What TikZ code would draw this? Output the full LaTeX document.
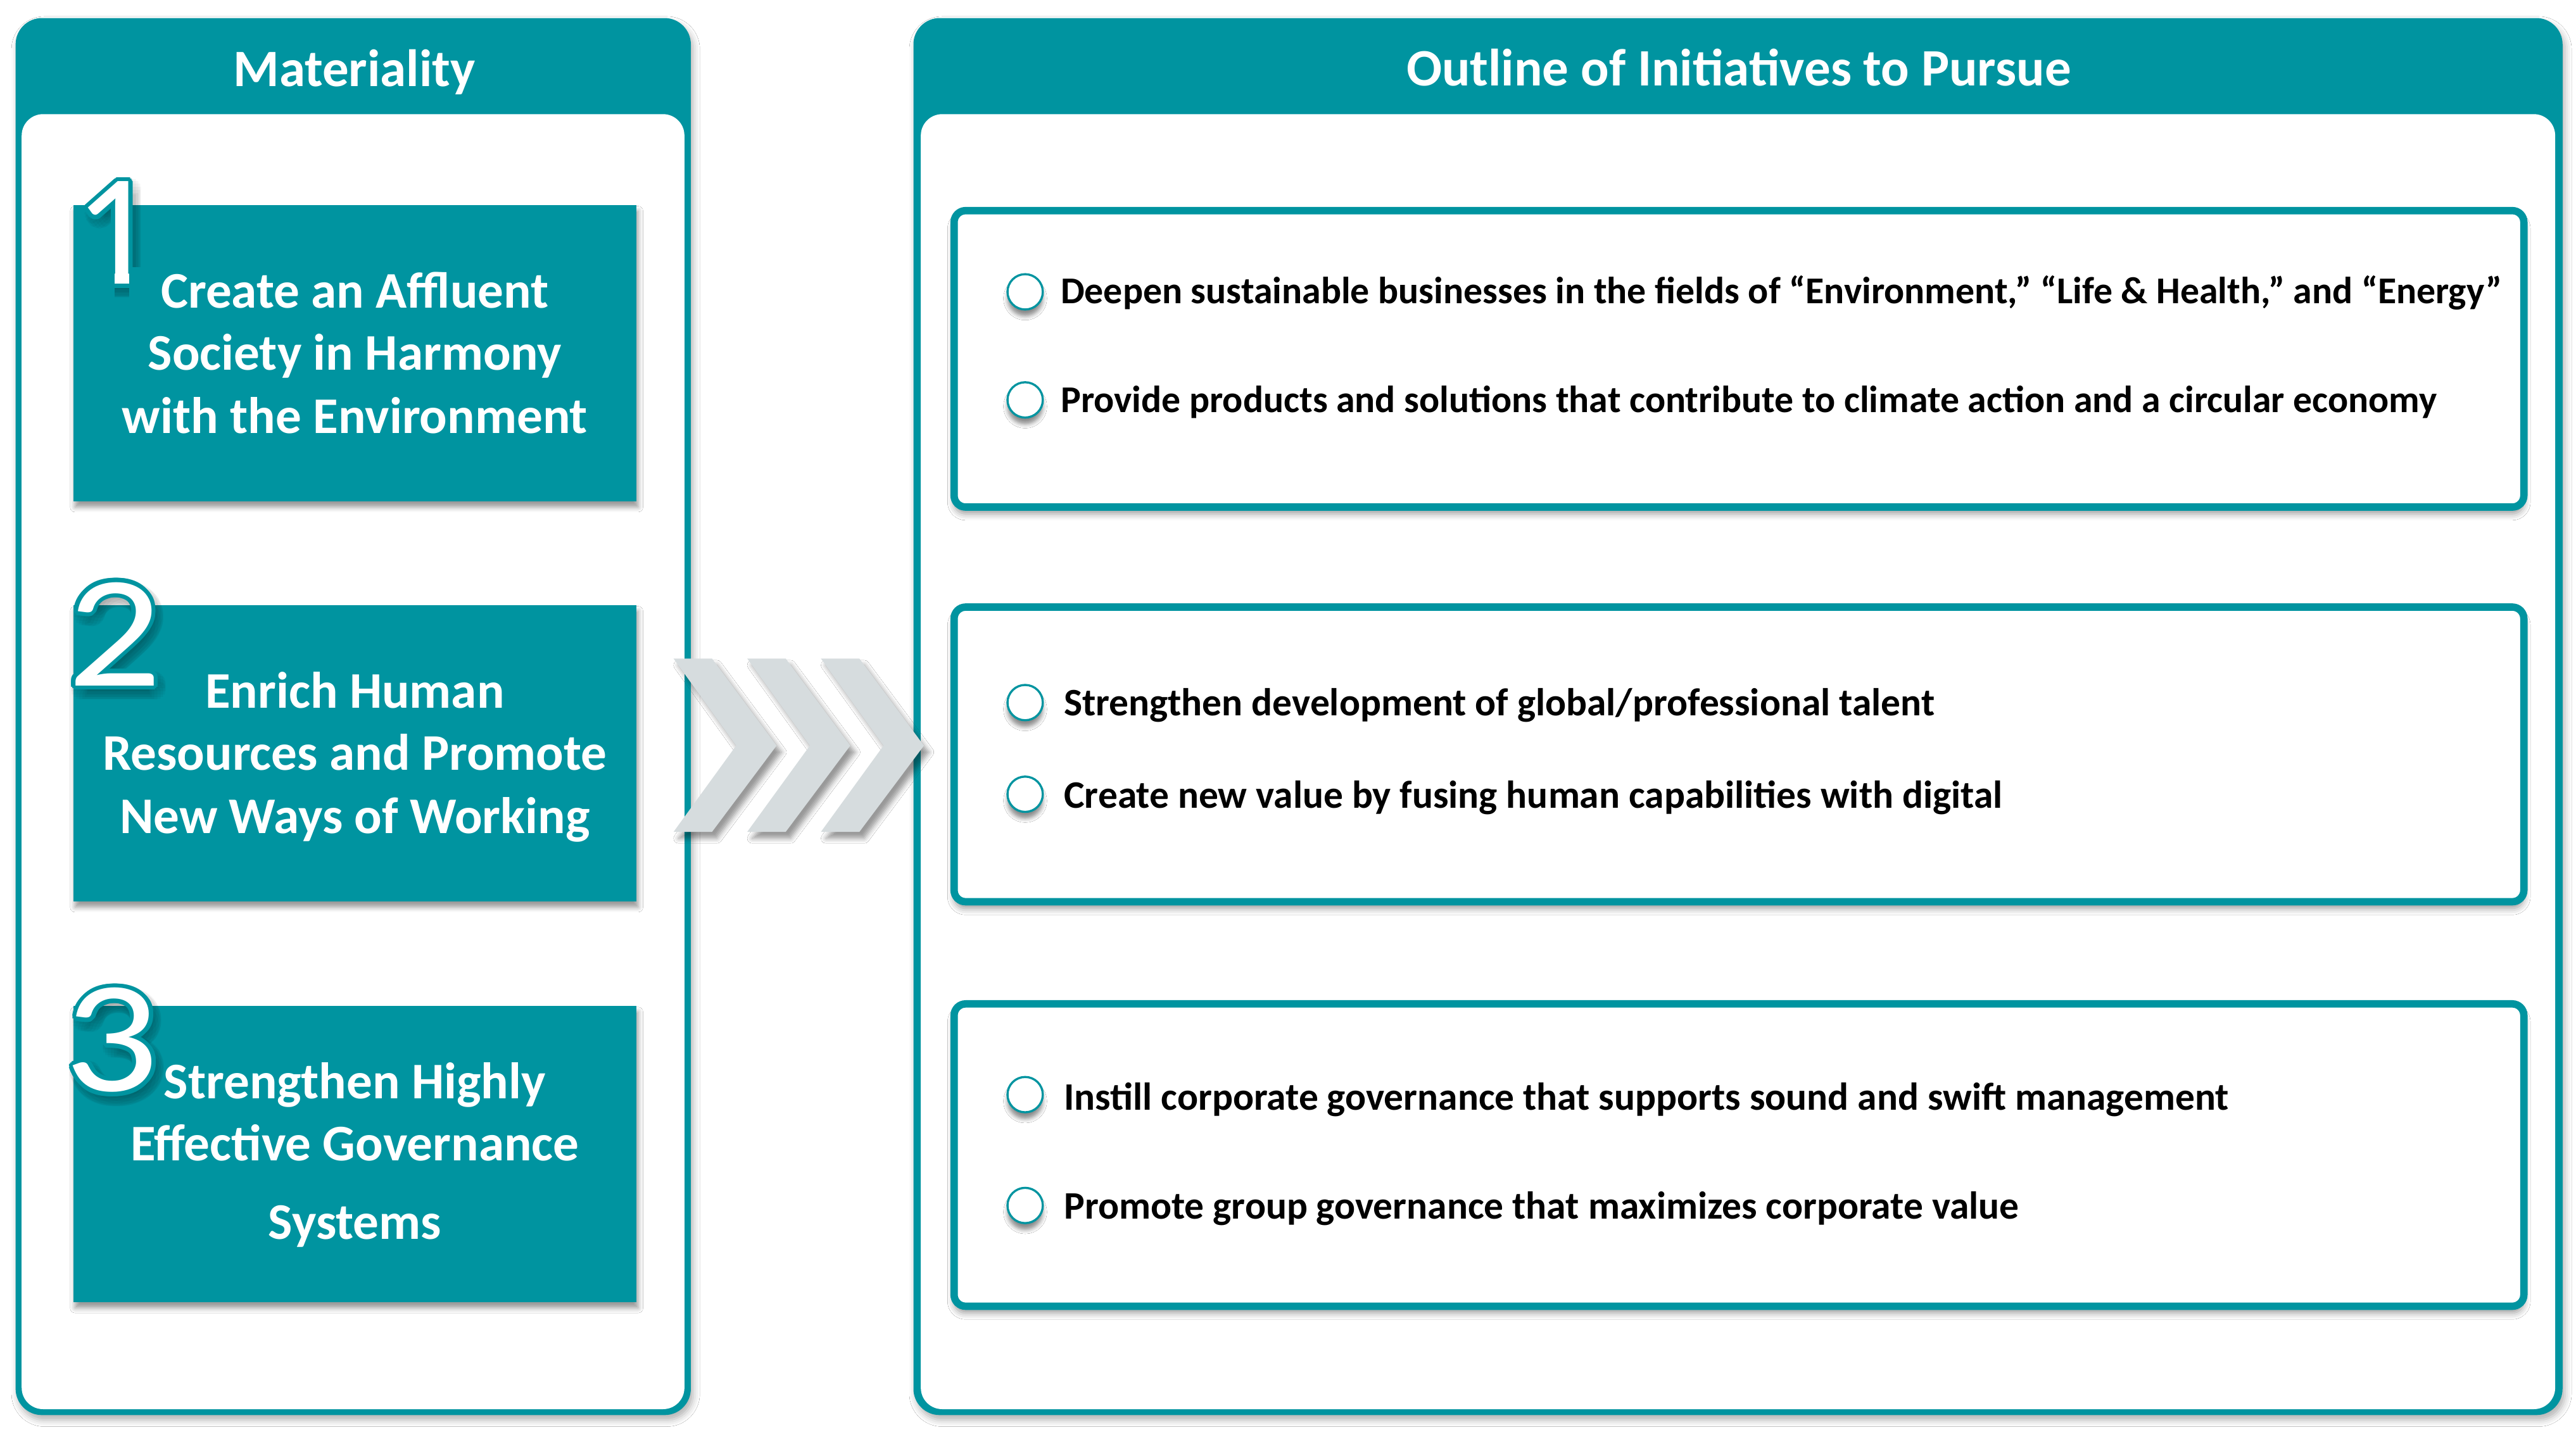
\documentclass[tikz,border=0pt]{standalone}
\usepackage{fontspec}
\setmainfont{Carlito}
\usetikzlibrary{shadows.blur}
\definecolor{tealc}{RGB}{0,148,160}
\definecolor{chevc}{RGB}{214,220,222}
% #1 name, #2 x, #3 y, #4 anchor, #5 content
\newcommand{\bignumber}[5]{%
  \foreach \i in {0,...,15}{%
    \node[numtxt, anchor=#4, text=black, text opacity=0.035, xshift={2.5pt+5pt*cos(\i*22.5)}, yshift={-3.5pt+5pt*sin(\i*22.5)}] (#1s\i) at (#2,#3) {#5};
  }
  \foreach \i in {0,...,15}{%
    \node[numtxt, anchor=#4, text=tealc, xshift={2.6pt*cos(\i*22.5)}, yshift={2.6pt*sin(\i*22.5)}] (#1o\i) at (#2,#3) {#5};
  }
  \node[numtxt, anchor=#4, text=white] (#1) at (#2,#3) {#5};
}
\begin{document}
\begin{tikzpicture}[x=1pt,y=-1pt,
  panel/.style={fill=tealc, rounded corners=16pt, blur shadow={shadow xshift=1.5pt, shadow yshift=-3pt, shadow blur radius=4pt, shadow opacity=30}},
  inner/.style={fill=white},
  hdr/.style={font=\fontsize{32}{38}\selectfont\bfseries, text=white, anchor=base, inner sep=0pt},
  matbox/.style={fill=tealc, inner sep=0pt, minimum width=342.7pt, minimum height=180.3pt, blur shadow={shadow xshift=1pt, shadow yshift=-3.5pt, shadow blur radius=3pt, shadow opacity=40}},
  mattxt/.style={font=\fontsize{31.3}{38}\selectfont\bfseries, text=white, anchor=base, inner sep=0pt},
  numtxt/.style={inner sep=0pt, font=\fontsize{97}{100}\selectfont},
  initbox/.style={draw=tealc, line width=4.5pt, fill=white, rounded corners=7pt, inner sep=0pt, minimum width=955.5pt, blur shadow={shadow xshift=0pt, shadow yshift=-4pt, shadow blur radius=4pt, shadow opacity=40}},
  bul/.style={circle, draw=tealc, line width=1.3pt, fill=white, inner sep=0pt, minimum size=21.5pt, blur shadow={shadow xshift=0pt, shadow yshift=-4pt, shadow blur radius=2.5pt, shadow opacity=45}},
  bultxt/.style={font=\fontsize{23.7}{28}\selectfont\bfseries, text=black, anchor=base west, inner sep=0pt},
  bultxtA/.style={font=\fontsize{23.05}{28}\selectfont\bfseries, text=black, anchor=base west, inner sep=0pt},
  chevron/.style={fill=chevc, blur shadow={shadow xshift=3pt, shadow yshift=-4pt, shadow blur radius=3pt, shadow opacity=40}}
]
\useasboundingbox (0,0) rectangle (1568,874.6);
\fill[white] (0,0) rectangle (1568,874.6);

% left panel
\path[panel] (9.5,11) rectangle (420.5,861.6);
\fill[inner, rounded corners=13pt] (13.2,69.5) rectangle (416.6,858);
\node[hdr] (hmat) at (215.7,52.6) {Materiality};

% right panel
\path[panel] (556,11) rectangle (1559.8,861.6);
\fill[inner, rounded corners=13pt] (560.5,69.5) rectangle (1555.3,858);
\node[hdr] (hout) at (1058.4,52.2) {Outline of Initiatives to Pursue};

% materiality boxes
\node[matbox] (m1) at (216.05,215.15) {};
\node[matbox] (m2) at (216.05,458.75) {};
\node[matbox] (m3) at (216.05,702.8) {};

% big numbers
\bignumber{n1}{45.15}{173}{base west}{1}
\fill[tealc] (46,162.5) rectangle (69.9,182);
\fill[tealc] (78.6,162.5) rectangle (99,182);
\bignumber{n2}{69.7}{417.5}{base}{\scalebox{1.17}[1]{2}}
\bignumber{n3}{68}{664.5}{base}{\scalebox{1.17}[1]{3}}

\node[mattxt] (m1a) at (216,187.5) {Create an Affluent};
\node[mattxt] (m1b) at (216,225.4) {Society in Harmony};
\node[mattxt] (m1c) at (216,263.7) {with the Environment};

\node[mattxt] (m2a) at (216,431) {Enrich Human};
\node[mattxt] (m2b) at (216,469) {Resources and Promote};
\node[mattxt] (m2c) at (216,507.6) {New Ways of Working};

\node[mattxt] (m3a) at (216,669) {Strengthen Highly};
\node[mattxt] (m3b) at (216,706.7) {Effective Governance};
\node[mattxt] (m3c) at (216,754.5) {Systems};

% initiative boxes
\node[initbox, minimum height=180.5pt] (bA) at (1058.5,218.5) {};
\node[initbox, minimum height=179.4pt] (bB) at (1058.5,459.35) {};
\node[initbox, minimum height=184.1pt] (bC) at (1058.5,703.3) {};

\node[bul] (cA1) at (624,177.7) {};
\node[bul] (cA2) at (624,243.5) {};
\node[bul] (cB1) at (624,427.8) {};
\node[bul] (cB2) at (624,483.6) {};
\node[bul] (cC1) at (624,666.5) {};
\node[bul] (cC2) at (624,734) {};

\node[bultxtA] (tA1) at (645.5,184.9) {Deepen sustainable businesses in the fields of “Environment,” “Life \& Health,” and “Energy”};
\node[bultxtA] (tA2) at (645.5,251.3) {Provide products and solutions that contribute to climate action and a circular economy};
\node[bultxt] (tB1) at (647.5,435.9) {Strengthen development of global/professional talent};
\node[bultxt] (tB2) at (647.5,492.1) {Create new value by fusing human capabilities with digital};
\node[bultxt] (tC1) at (647.5,675.8) {Instill corporate governance that supports sound and swift management};
\node[bultxt] (tC2) at (647.5,742) {Promote group governance that maximizes corporate value};

% chevrons
\foreach \i in {0,1,2}{
  \path[chevron] ({410+44.85*\i},401) -- ({433.4+44.85*\i},401) -- ({472.7+44.85*\i},454) -- ({433.4+44.85*\i},506.5) -- ({410+44.85*\i},506.5) -- ({448.1+44.85*\i},454) -- cycle;
}
\end{tikzpicture}
\end{document}
